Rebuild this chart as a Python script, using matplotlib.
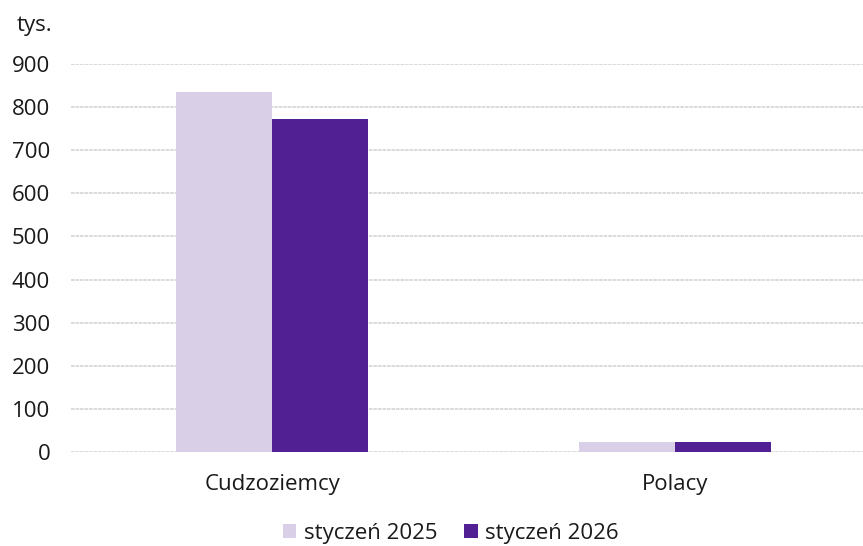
import matplotlib
matplotlib.use("Agg")
import matplotlib.pyplot as plt
import numpy as np

categories = ["Cudzoziemcy", "Polacy"]
series_names = ["styczeń 2025", "styczeń 2026"]
values_2025 = [835, 24]
values_2026 = [772, 24]
yticks = [0, 100, 200, 300, 400, 500, 600, 700, 800, 900]
colors = ["#d9d0e8", "#512193"]

plt.rcParams['font.family'] = ['Open Sans', 'DejaVu Sans']
text_color = "#1a1a1a"
fs = 16

fig = plt.figure(figsize=(8.63, 5.46), dpi=100)
ax = fig.add_axes([71/863, 1-452/546, 1-71/863, (452-64)/546])

x = np.arange(len(categories))
w = 0.238
ax.bar(x - w/2, values_2025, width=w, color=colors[0], label=series_names[0], zorder=3)
ax.bar(x + w/2, values_2026, width=w, color=colors[1], label=series_names[1], zorder=3)

ax.set_xlim(-0.499, 1.467)
ax.set_ylim(0, 900)
ax.set_yticks(yticks)
ax.set_xticks(x)
ax.set_xticklabels(categories)
for s in ax.spines.values():
    s.set_visible(False)
ax.yaxis.grid(True, color="#d8d8d8", linewidth=1.3, linestyle=(0, (2, 0.5)), zorder=0)
ax.tick_params(axis='y', length=0, pad=15, labelsize=fs, labelcolor=text_color)
ax.tick_params(axis='x', length=0, pad=16, labelsize=fs, labelcolor=text_color)
ax.set_axisbelow(True)

fig.text(17/863, 1-25/546, "tys.", fontsize=fs, color=text_color, ha='left', va='center')

leg = fig.legend(loc='center', bbox_to_anchor=(451/863, 1-533/546), ncol=2, frameon=False,
                 fontsize=fs, handlelength=0.6, handleheight=0.6, handletextpad=0.35,
                 columnspacing=1.2, borderpad=0)
for t in leg.get_texts():
    t.set_color(text_color)

fig.savefig("out.png", dpi=100)
